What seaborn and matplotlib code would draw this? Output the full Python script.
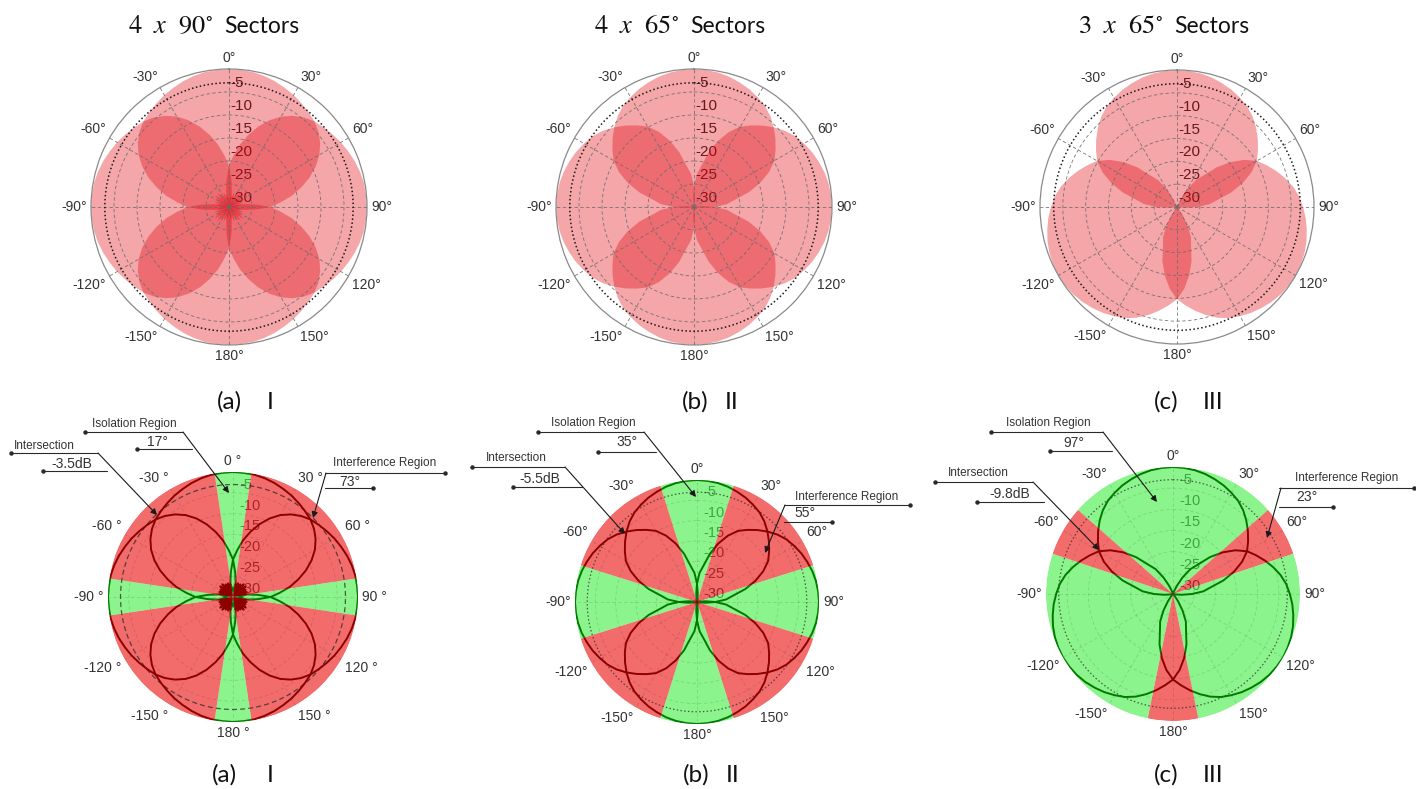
import numpy as np
import matplotlib
matplotlib.use("Agg")
import matplotlib.pyplot as plt
import seaborn as sns
from matplotlib.lines import Line2D
from matplotlib.patches import PathPatch, FancyArrowPatch
from matplotlib.path import Path
import matplotlib.transforms as mtransforms

# ---------------- data ----------------
offset_deg = [0, 5, 10, 15, 20, 25, 30, 35, 40, 45, 50, 55, 60, 65, 70, 75, 80, 85, 90,
              95, 100, 105, 110, 115, 120, 125, 130, 135, 140, 145, 150, 155, 160, 165,
              170, 175, 180]
# single-sector element pattern (dB) vs. offset from boresight, 90 deg sectors
pattern_90_db = [0.0, -0.1, -0.2, -0.5, -0.9, -1.4, -1.9, -2.5, -3.1, -3.7, -4.6, -5.8,
                 -7.3, -9.2, -11.4, -13.8, -16.2, -18.8, -21.0,
                 -24.0, -26.5, -28.0, -26.5, -27.5, -29.0, -27.0, -26.0, -27.5, -29.0,
                 -27.5, -26.5, -28.0, -29.5, -28.0, -27.0, -28.0, -28.5]
# single-sector element pattern (dB), 65 deg sectors
pattern_65_db = [0.0, -0.1, -0.3, -0.65, -1.15, -1.7, -2.4, -3.15, -4.2, -5.5, -6.9, -8.35,
                 -9.8, -12.0, -14.7, -17.7, -21.0, -22.8, -25.5,
                 -27.9, -29.4, -30.0, -30.0, -30.0, -30.0, -30.0, -30.0, -30.0, -30.0,
                 -30.0, -30.0, -30.0, -30.0, -30.0, -30.0, -30.0, -30.0]

azimuths_I = [0, 90, 180, -90]
azimuths_II = [0, 90, 180, -90]
azimuths_III = [0, 120, -120]

isolation_deg = [17, 35, 97]
interference_deg = [73, 55, 23]
intersection_db = [-3.5, -5.5, -9.8]
half_power_db = -3

title_math = [r"$4\ \ x\ \ 90^{\circ}$", r"$4\ \ x\ \ 65^{\circ}$", r"$3\ \ x\ \ 65^{\circ}$"]
title_word = "Sectors"
caption_letters = ["(a)", "(b)", "(c)"]
caption_roman = ["I", "II", "III"]
theta_tick_deg = [0, 30, 60, 90, 120, 150, 180, 210, 240, 270, 300, 330]
theta_tick_labels = ["0", "30", "60", "90", "120", "150", "180", "-150", "-120", "-90", "-60", "-30"]
r_tick_values = [-5, -10, -15, -20, -25, -30]

# ---------------- style ----------------
sns.set_style("white")
plt.rcParams["font.family"] = ["Liberation Sans", "DejaVu Sans"]
plt.rcParams["mathtext.fontset"] = "stix"

W, H = 1416, 789
fig = plt.figure(figsize=(W / 100, H / 100), dpi=100)

TOP_FILL = (225 / 255, 0, 10 / 255)
RED_FILL = (235 / 255, 30 / 255, 30 / 255)
GREEN_FILL = (70 / 255, 238 / 255, 70 / 255)
RED_LINE = "#8e0000"
GREEN_LINE = "#007a00"
TXT = "#333333"


def fx(x):
    return x / W


def fy(y):
    return 1 - y / H


def make_polar(cx, cy, R, spine):
    ax = fig.add_axes([(cx - R) / W, 1 - (cy + R) / H, 2 * R / W, 2 * R / H], projection="polar")
    ax.set_theta_zero_location("N")
    ax.set_theta_direction(-1)
    ax.set_xticks(np.deg2rad(theta_tick_deg))
    ax.set_xticklabels([])
    ax.set_yticks([-25, -20, -15, -10, -5])
    ax.set_yticklabels([])
    ax.set_axisbelow(False)
    if spine:
        ax.spines["polar"].set_color("#8a8a8a")
        ax.spines["polar"].set_linewidth(0.9)
    else:
        ax.spines["polar"].set_visible(False)
    return ax


def theta_labels(ax, labels, gap, size):
    for deg, s in zip(theta_tick_deg, labels):
        a = np.deg2rad(deg)
        sx, cy_ = np.sin(a), np.cos(a)
        tr = mtransforms.offset_copy(ax.transData, fig=fig, x=gap * sx, y=gap * cy_, units="dots")
        ha = "left" if sx > 0.3 else ("right" if sx < -0.3 else "center")
        va = "bottom" if cy_ > 0.3 else ("top" if cy_ < -0.3 else "center")
        ax.text(a, 0, s, transform=tr, ha=ha, va=va, fontsize=size, color=TXT, clip_on=False)


def full_pattern(pattern):
    off = np.array(offset_deg, dtype=float)
    g = np.array(pattern, dtype=float)
    return np.concatenate([-off[:0:-1], off]), np.concatenate([g[:0:-1], g])


def r_labels(ax, dx, dy, size, color):
    tr = mtransforms.offset_copy(ax.transData, fig=fig, x=dx, y=dy, units="dots")
    for v in r_tick_values:
        ax.text(0, v, str(v), transform=tr, ha="left", va="center", fontsize=size,
                color=color, zorder=0.8)


def wedge_verts(center, width):
    t = np.deg2rad(np.linspace(center - width / 2, center + width / 2, 80))
    th = np.concatenate([[t[0]], t, [t[-1]]])
    rr = np.concatenate([[-30], np.zeros_like(t), [-30]])
    return th, rr


def caption(i, xs, y):
    fig.text(fx(xs[0]), fy(y), caption_letters[i], ha="center", va="baseline",
             fontsize=17.5, family="Lato", color="#111111")
    fig.text(fx(xs[1]), fy(y), caption_roman[i], ha="center", va="baseline",
             fontsize=17.5, family="Lato", color="#111111")


configs = [(azimuths_I, pattern_90_db), (azimuths_II, pattern_65_db), (azimuths_III, pattern_65_db)]
top_centers = [(229, 207), (694, 207), (1177, 207)]
top_R = [138, 138, 137]
bot_centers = [(233, 597), (697, 602), (1173, 594)]
bot_R = [125, 122, 127]
title_word_x = [224, 690, 1174]
cap_top_x = [(229, 270), (695, 732), (1166, 1213)]
cap_bot_x = [(224, 270), (696, 733), (1166, 1213)]

circle_t = np.linspace(0, 2 * np.pi, 361)

# ---------------- top row ----------------
for i, (az_list, pattern) in enumerate(configs):
    cx, cy = top_centers[i]
    ax = make_polar(cx, cy, top_R[i], True)
    ax.grid(True, color="#6a6a6a", alpha=0.9, lw=0.6, ls=(0, (4, 3)))
    off_full, g_full = full_pattern(pattern)
    for az in az_list:
        th = np.deg2rad(az + off_full)
        ax.fill(th, g_full, color=TOP_FILL, alpha=0.35, lw=0, zorder=1)
    ax.plot(circle_t, np.full_like(circle_t, half_power_db), ls=(0, (1, 1.6)),
            color="#1a1a1a", lw=1.1, zorder=2.6)
    ax.set_ylim(-30, 0)
    theta_labels(ax, [s + "°" for s in theta_tick_labels], 4, 10)
    r_labels(ax, 1, 9, 11, "#262626")
    fig.text(fx(title_word_x[i] - 11), fy(33), title_math[i], ha="right", va="baseline",
             fontsize=19, color="#111111")
    fig.text(fx(title_word_x[i]), fy(33), title_word, ha="left", va="baseline",
             fontsize=16.5, family="Lato", color="#111111")
    caption(i, cap_top_x[i], 409)

# ---------------- bottom row ----------------
for i, (az_list, pattern) in enumerate(configs):
    cx, cy = bot_centers[i]
    deg_sfx = " °" if i == 0 else "°"
    ax = make_polar(cx, cy, bot_R[i], False)
    ax.grid(True, color="black", alpha=0.13, lw=0.6, ls=(0, (4, 3)))
    n = len(az_list)
    step = 360 / n
    green_paths, red_paths = [], []
    for az in az_list:
        th, rr = wedge_verts(az, isolation_deg[i])
        ax.fill(th, rr, color=GREEN_FILL, alpha=0.62, lw=0, zorder=1)
        green_paths.append(Path(np.column_stack([th, rr])))
        th, rr = wedge_verts(az + step / 2, interference_deg[i])
        ax.fill(th, rr, color=RED_FILL, alpha=0.65, lw=0, zorder=1)
        red_paths.append(Path(np.column_stack([th, rr])))
    green_clip = PathPatch(Path.make_compound_path(*green_paths), transform=ax.transData)
    red_clip = PathPatch(Path.make_compound_path(*red_paths), transform=ax.transData)

    ls = (0, (4, 2.5)) if i == 0 else (0, (1.2, 1.8))
    ax.plot(circle_t, np.full_like(circle_t, half_power_db), ls=ls, color="#2a2a2a",
            lw=0.9, zorder=2.6, alpha=0.75)

    off_full, g_full = full_pattern(pattern)
    for az in az_list:
        th = np.deg2rad(az + off_full)
        for col, clip in ((GREEN_LINE, green_clip), (RED_LINE, red_clip)):
            sns.lineplot(x=th, y=g_full, ax=ax, sort=False, estimator=None, color=col,
                         lw=1.4, zorder=3)
            ax.lines[-1].set_clip_path(clip)
    ax.set_xlabel("")
    ax.set_ylabel("")
    ax.set_ylim(-30, 0)
    theta_labels(ax, [s + deg_sfx for s in theta_tick_labels], 4, 10)
    r_labels(ax, 6, 8, 10.5, "#333333")
    caption(i, cap_bot_x[i], 782)


# ---------------- leader annotations ----------------
def hline(x0, x1, y, dot):
    fig.add_artist(Line2D([fx(x0), fx(x1)], [fy(y), fy(y)], transform=fig.transFigure,
                          color="#2a2a2a", lw=0.8))
    xd = x0 if dot == "left" else x1
    fig.add_artist(Line2D([fx(xd)], [fy(y)], transform=fig.transFigure, marker="o",
                          ms=2.2, color="#2a2a2a", lw=0))


def leader(p0, p1):
    fig.add_artist(FancyArrowPatch((fx(p0[0]), fy(p0[1])), (fx(p1[0]), fy(p1[1])),
                                   transform=fig.transFigure, arrowstyle="-|>",
                                   mutation_scale=9, lw=0.8, color="#1a1a1a",
                                   shrinkA=0, shrinkB=0))


def label(x, y, s, size):
    fig.text(fx(x), fy(y), s, ha="center", va="center", fontsize=size, color=TXT)


annots = [
    # panel a
    dict(iso=((134, 424), (85, 183, 432), (157, 442), (137, 192, 449), (183, 432), (229, 493)),
         inter=((44, 446), (11, 98, 453), (72, 464), (43, 107, 471), (98, 453), (157, 515)),
         interf=((385, 463), (325, 445, 473), (350, 482), (325, 373, 488), (326, 473), (313, 518))),
    # panel b
    dict(iso=((593, 423), (538, 644, 432), (627, 442), (598, 656, 452), (644, 432), (696, 497)),
         inter=((516, 458), (472, 565, 467), (540, 479), (513, 582, 487), (565, 467), (625, 534)),
         interf=((847, 497), (784, 910, 505), (805, 513), (784, 832, 522), (785, 505), (765, 553))),
    # panel c
    dict(iso=((1048, 423), (991, 1103, 432), (1074, 443), (1050, 1112, 451), (1103, 432), (1157, 502)),
         inter=((978, 473), (935, 1033, 482), (1010, 494), (977, 1044, 502), (1033, 482), (1099, 550)),
         interf=((1347, 478), (1279, 1414, 488), (1307, 497), (1279, 1333, 507), (1281, 488), (1267, 538))),
]

for i, a in enumerate(annots):
    texts = dict(iso=("Isolation Region", f"{isolation_deg[i]}°", "left"),
                 inter=("Intersection", f"{intersection_db[i]}dB", "left"),
                 interf=("Interference Region", f"{interference_deg[i]}°", "right"))
    for key, (t1, t2, side) in texts.items():
        p_t1, l1, p_t2, l2, start, tip = a[key]
        label(p_t1[0], p_t1[1], t1, 8.5)
        hline(l1[0], l1[1], l1[2], side)
        label(p_t2[0], p_t2[1], t2, 10)
        hline(l2[0], l2[1], l2[2], side)
        leader(start, tip)

fig.savefig("out.png", dpi=100)
